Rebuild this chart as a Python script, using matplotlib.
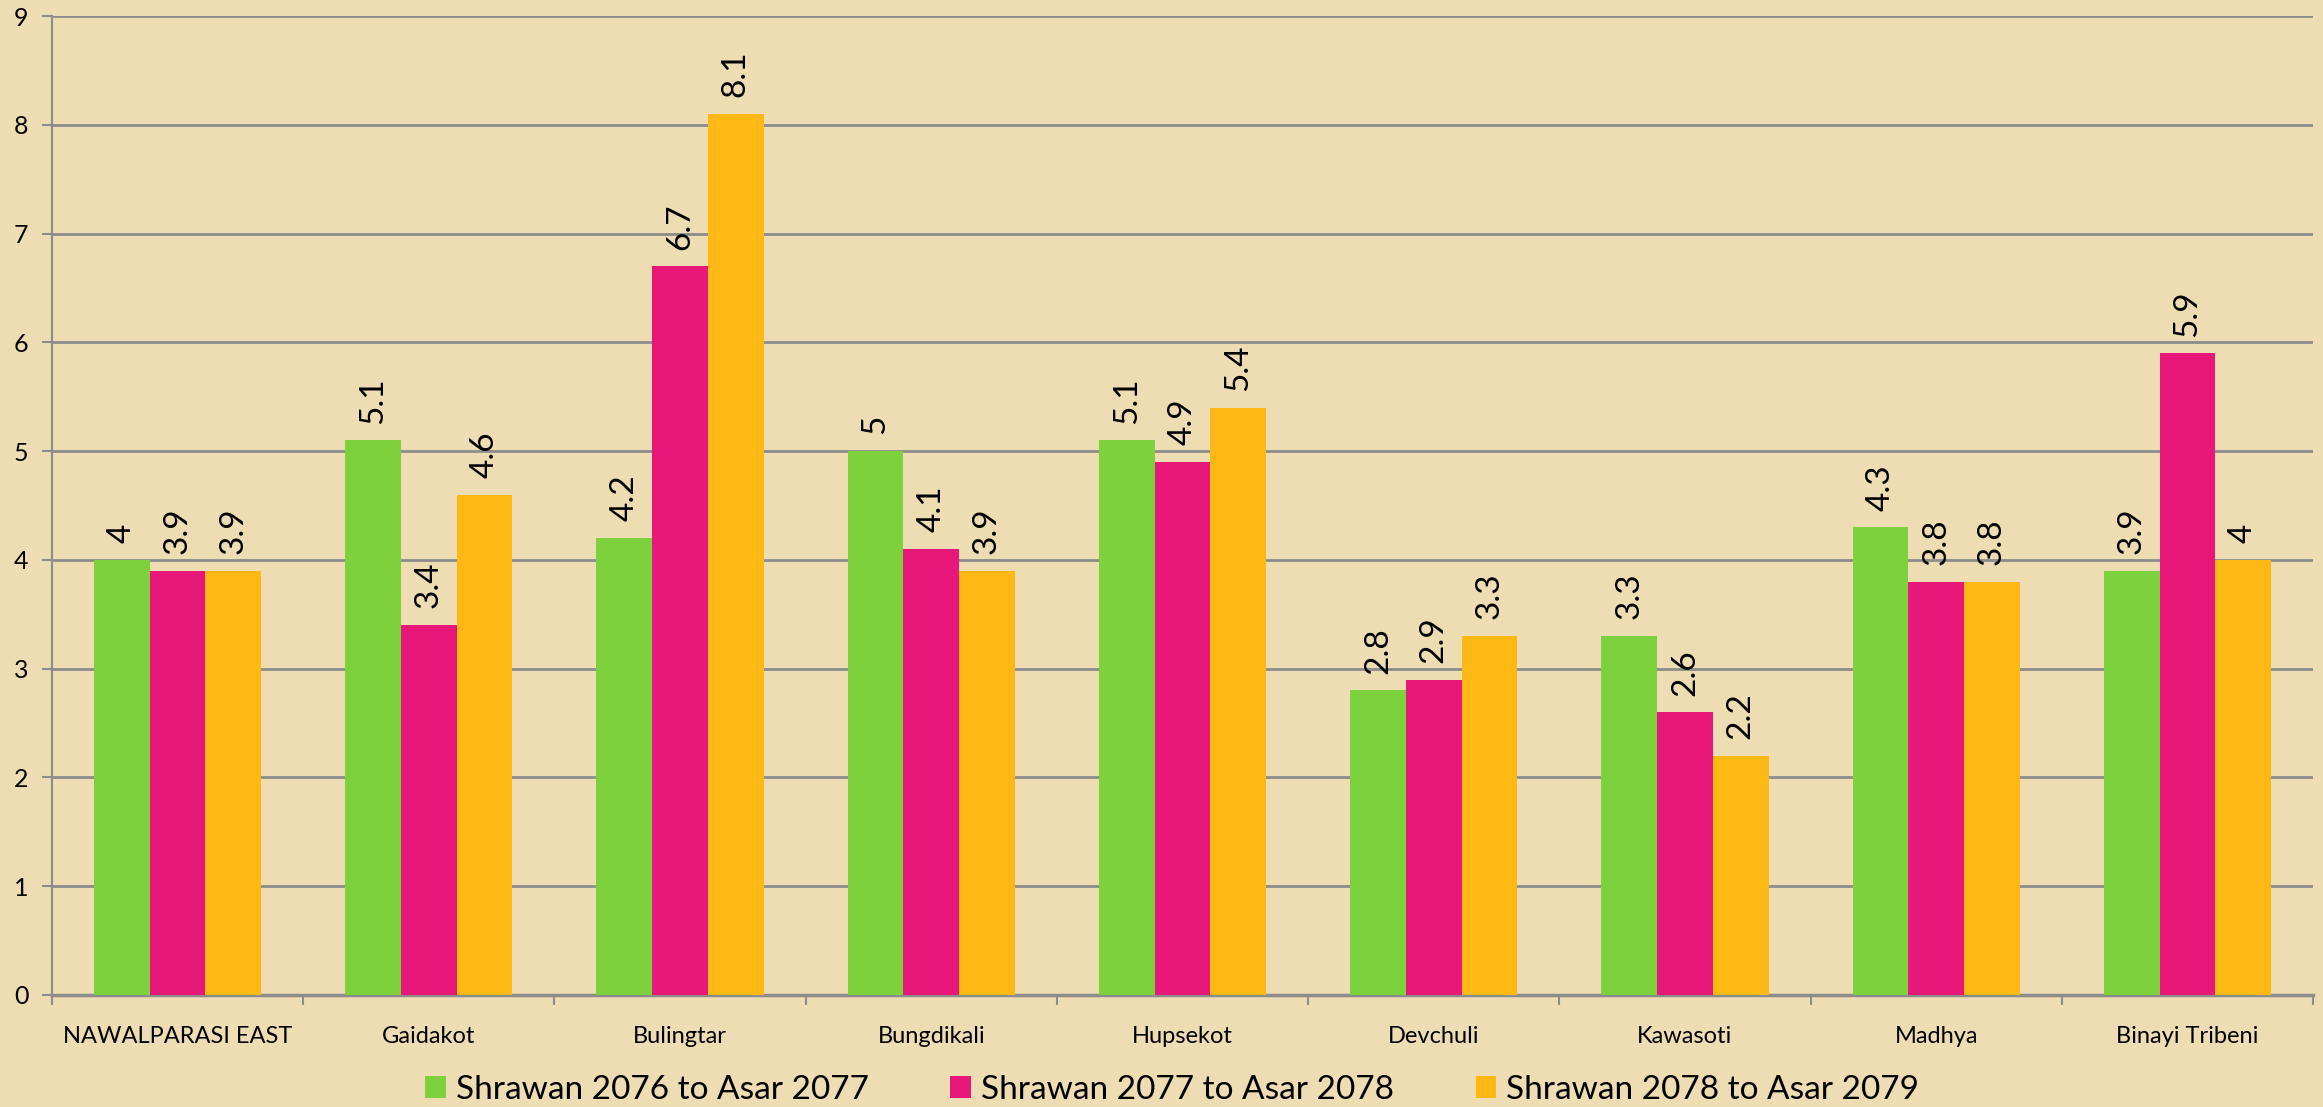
import matplotlib
matplotlib.use("Agg")
import matplotlib.pyplot as plt
import numpy as np
from matplotlib.patches import Patch

categories = ["NAWALPARASI EAST", "Gaidakot", "Bulingtar", "Bungdikali", "Hupsekot",
              "Devchuli", "Kawasoti", "Madhya", "Binayi Tribeni"]
series_names = ["Shrawan 2076 to Asar 2077", "Shrawan 2077 to Asar 2078", "Shrawan 2078 to Asar 2079"]
s2077 = [4, 5.1, 4.2, 5, 5.1, 2.8, 3.3, 4.3, 3.9]
s2078 = [3.9, 3.4, 6.7, 4.1, 4.9, 2.9, 2.6, 3.8, 5.9]
s2079 = [3.9, 4.6, 8.1, 3.9, 5.4, 3.3, 2.2, 3.8, 4]
colors = ["#7DD13C", "#E8177A", "#FDB813"]
yticks = list(range(0, 10))

plt.rcParams['font.family'] = ['Lato', 'DejaVu Sans']

fig = plt.figure(figsize=(23.23, 11.07), dpi=100)
bg = "#EEDDB2"
fig.patch.set_facecolor(bg)
ax = fig.add_axes([52/2323, 1-995/1107, (2313-52)/2323, (995-16)/1107])
ax.set_facecolor("none")

x = np.arange(len(categories))
w = 0.222
for i, (vals, c, name) in enumerate(zip([s2077, s2078, s2079], colors, series_names)):
    pos = x + (i - 1) * w
    ax.bar(pos, vals, width=w, color=c, label=name, zorder=3)
    for px, v in zip(pos, vals):
        ax.annotate(f"{v:g}", (px, v), xytext=(0, 12), textcoords="offset points",
                    rotation=90, ha="center", va="bottom", fontsize=24, zorder=4)

ax.set_xlim(-0.5, len(categories) - 0.5)
ax.set_ylim(0, 9)
ax.set_yticks(yticks)
ax.set_yticklabels([str(t) for t in yticks], fontsize=18)
ax.yaxis.grid(True, color="#8C8C8C", linewidth=2, zorder=0)
ax.set_axisbelow(True)
ax.tick_params(axis="y", length=7, width=1.5, color="#8C8C8C", pad=10)

ax.set_xticks(x)
ax.set_xticklabels(categories, fontsize=17)
ax.tick_params(axis="x", which="major", length=0, pad=22)
ax.set_xticks(np.arange(-0.5, len(categories)), minor=True)
ax.tick_params(axis="x", which="minor", length=7, width=1.5, color="#8C8C8C")

for s in ["top", "right"]:
    ax.spines[s].set_visible(False)
ax.spines["left"].set_color("#8C8C8C")
ax.spines["left"].set_linewidth(1.5)
ax.spines["bottom"].set_color("#8C8C8C")
ax.spines["bottom"].set_linewidth(2.5)

handles = [Patch(facecolor=c, label=n) for c, n in zip(colors, series_names)]
fig.legend(handles=handles, loc="center", bbox_to_anchor=(1172/2323, 1-1090/1107), ncol=3,
           frameon=False, fontsize=24, handlelength=0.62, handleheight=0.62,
           handletextpad=0.3, columnspacing=2.45)

fig.savefig("out.png", dpi=100, facecolor=bg)
